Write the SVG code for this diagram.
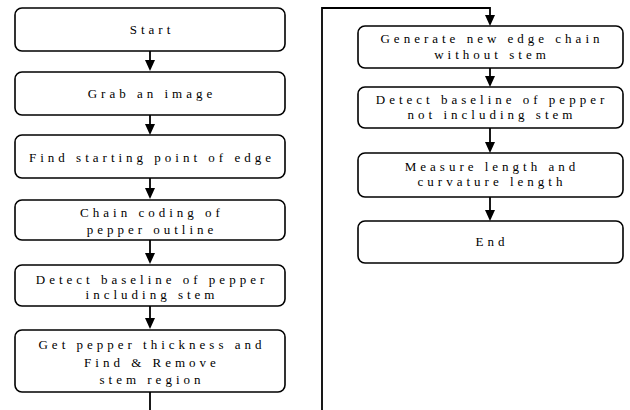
<svg xmlns="http://www.w3.org/2000/svg" width="630" height="410" viewBox="0 0 630 410">
<style>
.box{fill:#fff;stroke:#000;stroke-width:1.6}
.t{font-family:'Liberation Serif','DejaVu Serif',serif;font-size:13px;letter-spacing:4px;text-anchor:middle;fill:#000}
.c{fill:none;stroke:#000;stroke-width:1.8}
</style>
<g id="connectors">
<path class="c" d="M150,51 V60"/><path d="M145,60 H155 L150,71 Z"/>
<path class="c" d="M150,115 V124"/><path d="M145,124 H155 L150,135 Z"/>
<path class="c" d="M150,178 V188"/><path d="M145,188 H155 L150,199 Z"/>
<path class="c" d="M150,240 V253"/><path d="M145,253 H155 L150,264 Z"/>
<path class="c" d="M150,306 V318"/><path d="M145,318 H155 L150,329 Z"/>
<path class="c" d="M150,392 V410"/>
<path class="c" d="M322,410 V8 H490 V15"/><path d="M485,15 H495 L490,26 Z"/>
<path class="c" d="M490,68 V76"/><path d="M485,76 H495 L490,87 Z"/>
<path class="c" d="M490,128 V142"/><path d="M485,142 H495 L490,153 Z"/>
<path class="c" d="M490,197 V210"/><path d="M485,210 H495 L490,221 Z"/>
</g>
<g id="start"><rect class="box" x="15" y="8" width="270" height="43" rx="7"/><text class="t" x="152" y="34">Start</text></g>
<g id="grab"><rect class="box" x="15" y="72" width="270" height="43" rx="7"/><text class="t" x="152" y="98">Grab an image</text></g>
<g id="find"><rect class="box" x="15" y="135" width="270" height="43" rx="7"/><text class="t" x="152" y="162">Find starting point of edge</text></g>
<g id="chain"><rect class="box" x="15" y="200" width="270" height="40" rx="7"/><text class="t" x="152" y="217">Chain coding of</text><text class="t" x="152" y="234">pepper outline</text></g>
<g id="detect1"><rect class="box" x="15" y="265" width="270" height="41" rx="7"/><text class="t" x="152" y="284">Detect baseline of pepper</text><text class="t" x="152" y="299">including stem</text></g>
<g id="get"><rect class="box" x="15" y="330" width="270" height="62" rx="7"/><text class="t" x="152" y="349">Get pepper thickness and</text><text class="t" x="152" y="367">Find &amp; Remove</text><text class="t" x="152" y="384">stem region</text></g>
<g id="generate"><rect class="box" x="358" y="26" width="265" height="42" rx="7"/><text class="t" x="492" y="43">Generate new edge chain</text><text class="t" x="492" y="59">without stem</text></g>
<g id="detect2"><rect class="box" x="358" y="87" width="265" height="41" rx="7"/><text class="t" x="492" y="104">Detect baseline of pepper</text><text class="t" x="492" y="119">not including stem</text></g>
<g id="measure"><rect class="box" x="358" y="153" width="265" height="44" rx="7"/><text class="t" x="492" y="171">Measure length and</text><text class="t" x="492" y="186">curvature length</text></g>
<g id="end"><rect class="box" x="358" y="221" width="265" height="42" rx="7"/><text class="t" x="492" y="246">End</text></g>
</svg>
